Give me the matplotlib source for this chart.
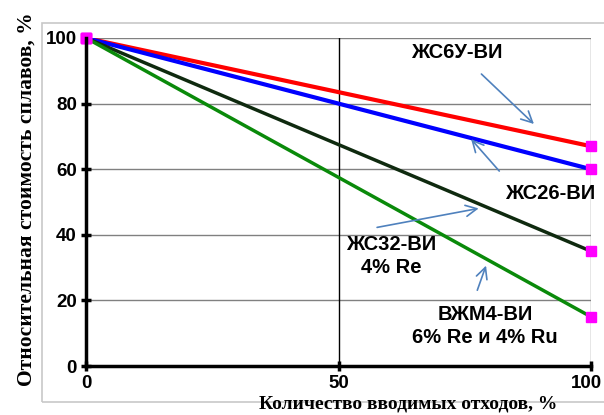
import matplotlib
matplotlib.use("Agg")
import matplotlib.pyplot as plt
import matplotlib.transforms as mtransforms
from matplotlib.patches import Rectangle

# data
waste = [0, 100]
zhs6u = [100, 67]
zhs26 = [100, 60]
zhs32 = [100, 35]
vzhm4 = [100, 15]

labels = ["ЖС6У-ВИ", "ЖС26-ВИ", "ЖС32-ВИ\n4% Re", "ВЖМ4-ВИ\n6% Re и 4% Ru"]
label_pos = [(73.5, 95.5), (92.0, 52.5), (60.5, 33.5), (79.0, 12.3)]
arrow_from = [(77.9, 89.6), (82.2, 58.8), (57.1, 42.1), (77.3, 22.3)]
arrow_to = [(89.1, 73.2), (75.9, 69.8), (78.3, 48.2), (79.4, 31.4)]

fig = plt.figure(figsize=(6.04, 4.15), dpi=100)
ax = fig.add_axes([86 / 604, 1 - 366 / 415, (591 - 86) / 604, (366 - 38) / 415])

# outer light border like the spreadsheet chart area
fig.patches.append(Rectangle((42 / 604, 1 - 402 / 415), 1.0, (402 - 23) / 415,
                             transform=fig.transFigure, fill=False,
                             edgecolor="#c8c8c8", linewidth=1.2, zorder=0))

ax.plot(waste, zhs6u, color="#ff0000", lw=3, zorder=3)
ax.plot(waste, zhs26, color="#0000ff", lw=3, zorder=3)
ax.plot(waste, zhs32, color="#0f2a0f", lw=2.5, zorder=3)
ax.plot(waste, vzhm4, color="#0a8a0a", lw=2.5, zorder=3)
for ys in (zhs6u, zhs26, zhs32, vzhm4):
    ax.plot(waste, ys, ls="none", marker="s", ms=7, color="#ff00ff",
            zorder=4, clip_on=False)

ax.set_xlim(0, 100)
ax.set_ylim(0, 100)
ax.set_xticks([0, 50, 100])
ax.set_yticks([0, 20, 40, 60, 80, 100])
for y in [20, 40, 60, 80, 100]:
    ax.axhline(y, color="#808080", lw=1, zorder=1)
ax.axvline(50, color="#000000", lw=1, zorder=1)
ax.axvline(100, color="#808080", lw=1, zorder=1)

for s in ["top", "right"]:
    ax.spines[s].set_visible(False)
for s in ["left", "bottom"]:
    ax.spines[s].set_linewidth(2.5)
    ax.spines[s].set_zorder(5)
ax.tick_params(direction="inout", length=7, width=2.5, pad=3)
for t in ax.get_xticklabels() + ax.get_yticklabels():
    t.set_fontfamily("Liberation Sans")
    t.set_fontweight("bold")
    t.set_fontsize(13.5)
# keep the last x tick label inside the picture
last = ax.get_xticklabels()[-1]
last.set_transform(last.get_transform() +
                   mtransforms.ScaledTranslation(-5 / 100, 0, fig.dpi_scale_trans))

for txt, (x, y) in zip(labels, label_pos):
    ax.text(x, y, txt, ha="center", va="center", fontsize=14.5,
            fontweight="bold", family="Liberation Sans", linespacing=1.25,
            zorder=6)
for p0, p1 in zip(arrow_from, arrow_to):
    ax.annotate("", xy=p1, xytext=p0,
                arrowprops=dict(arrowstyle="->", color="#4f81bd", lw=1.2,
                                mutation_scale=20), zorder=6)

fig.text(27 / 604, 1 - 199 / 415, "Относительная стоимость сплавов, %",
         rotation=90, ha="center", va="center", fontsize=15.5,
         fontweight="bold", family="Liberation Serif")
fig.text(408 / 604, 1 - 404 / 415, "Количество вводимых отходов, %",
         ha="center", va="center", fontsize=14, fontweight="bold",
         family="Liberation Serif")

fig.savefig("out.png", dpi=100)
